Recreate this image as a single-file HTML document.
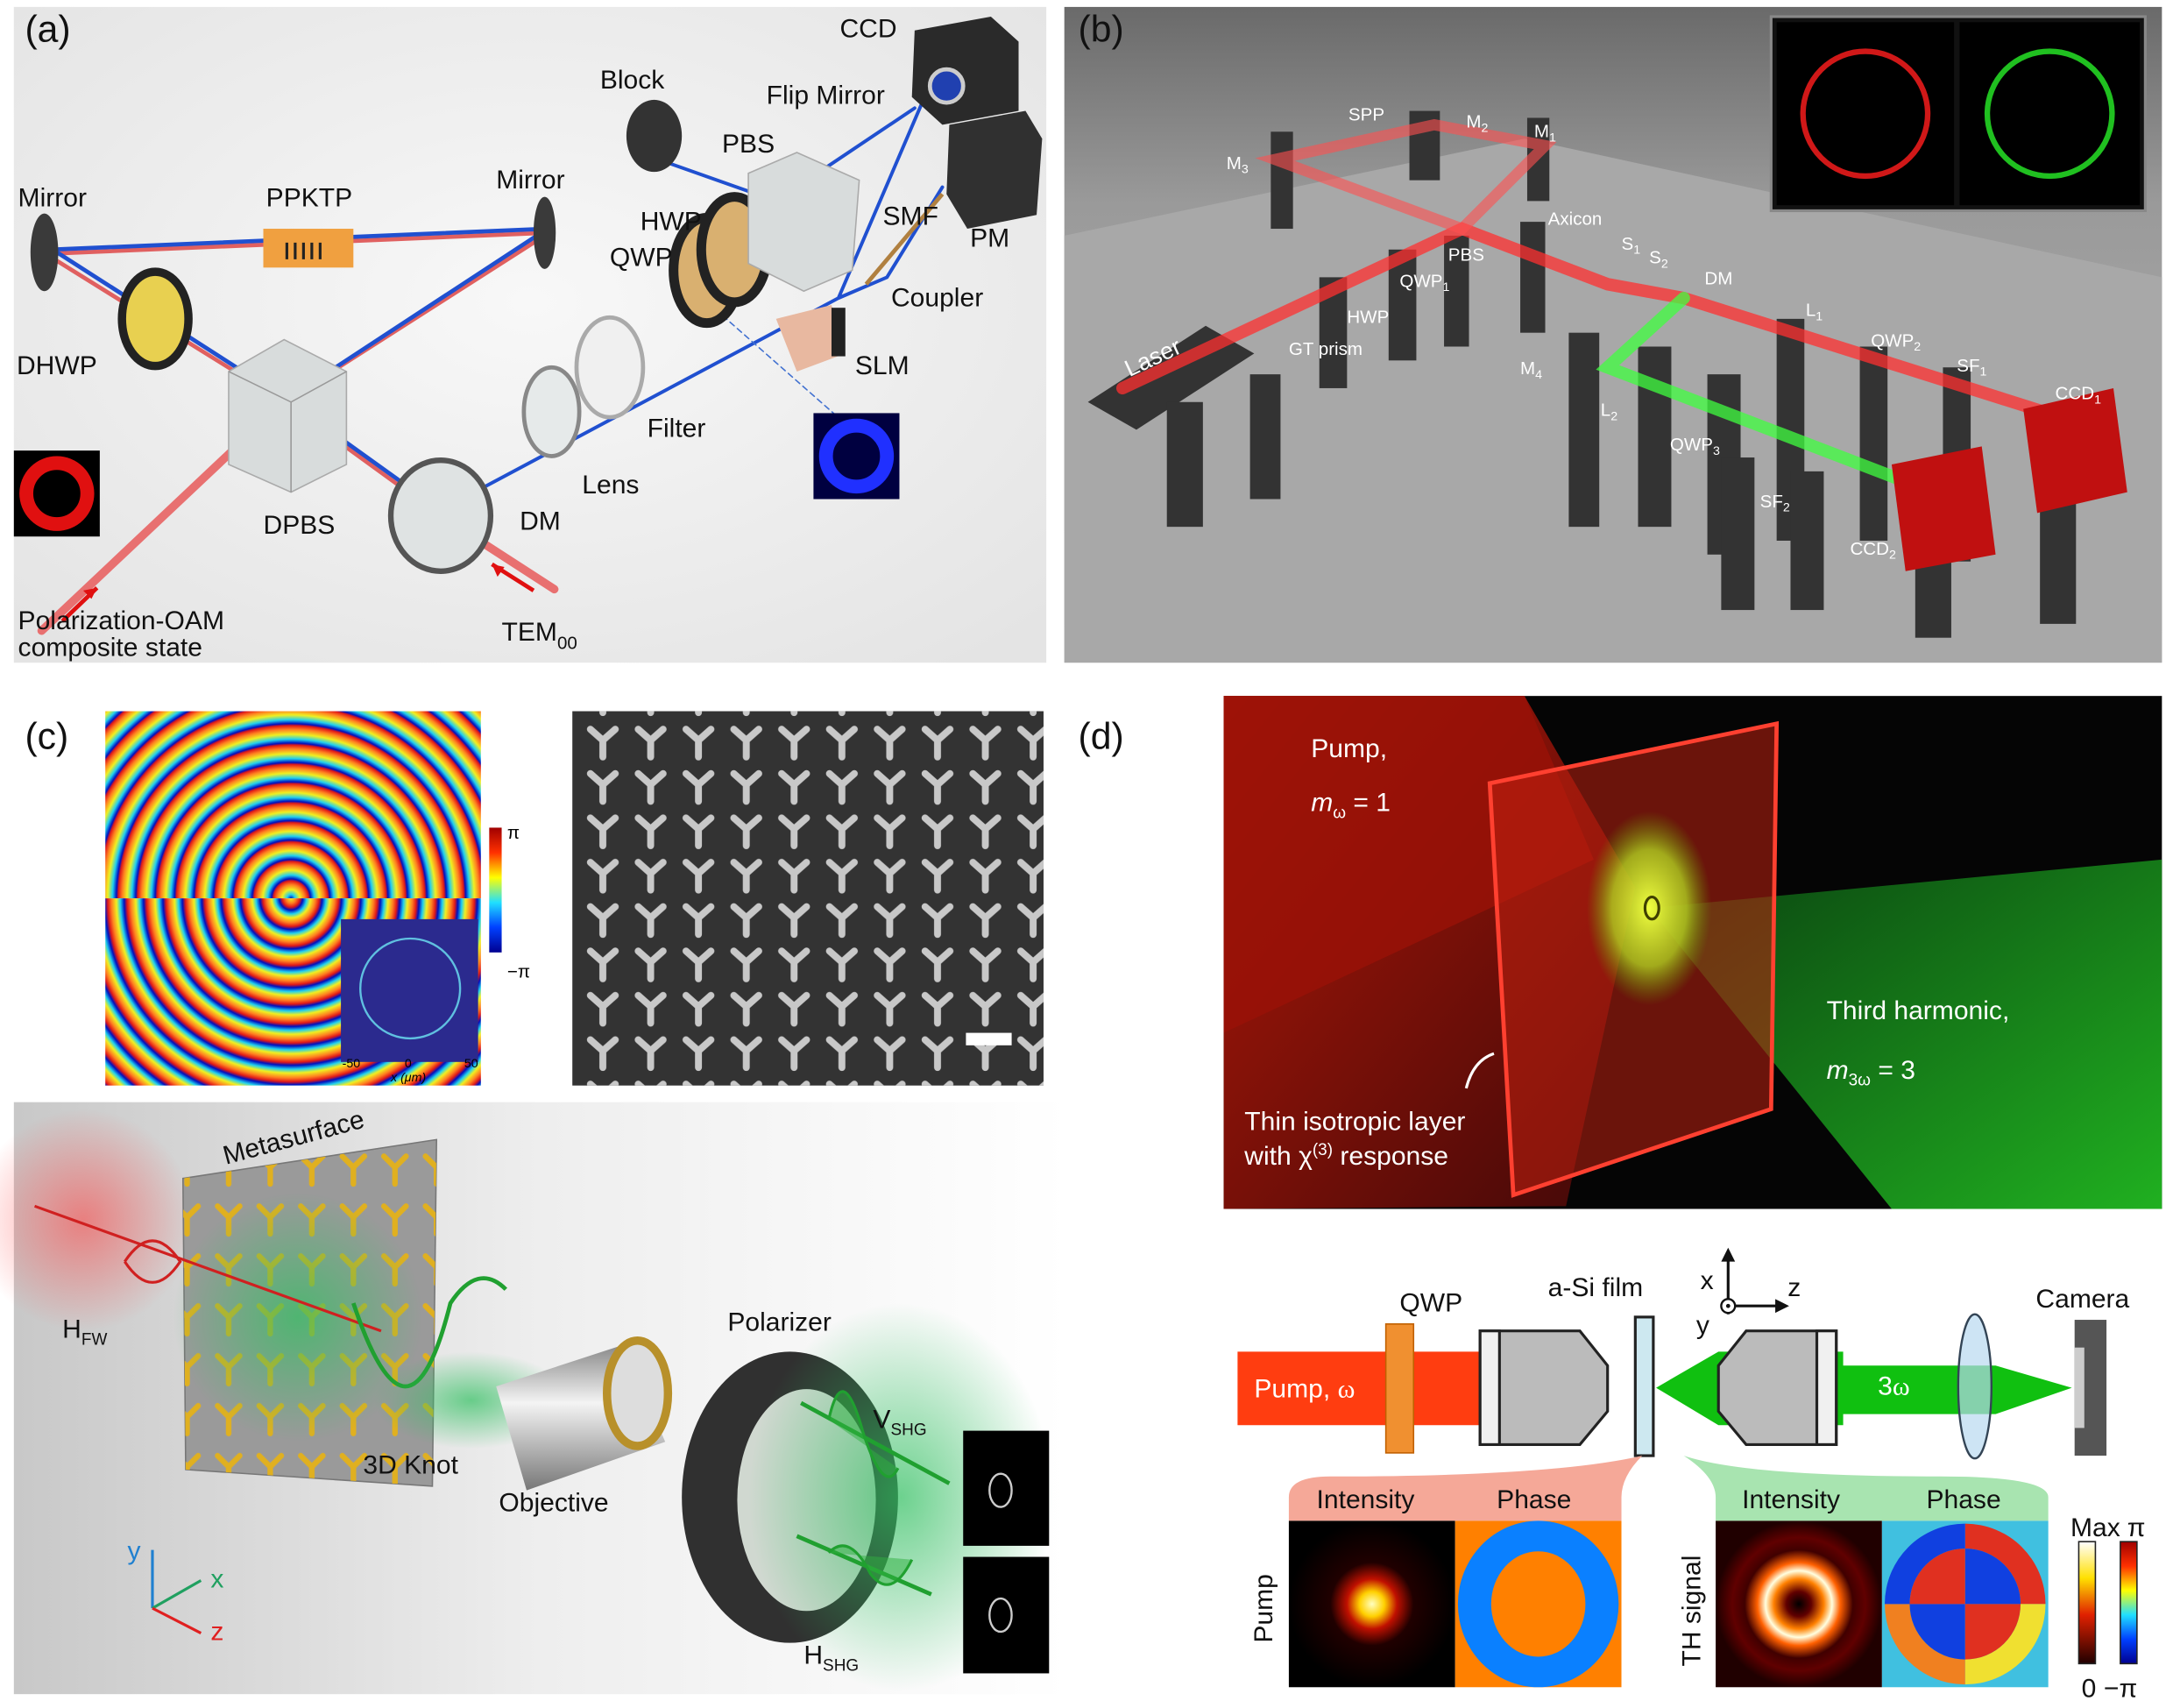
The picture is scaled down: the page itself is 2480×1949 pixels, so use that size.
<!DOCTYPE html>
<html><head><meta charset="utf-8"><style>
html,body{margin:0;padding:0;background:#fff}
svg{display:block}
text{font-family:"Liberation Sans",sans-serif}
</style></head><body>
<svg width="2480" height="1949" viewBox="0 0 1568 1232" preserveAspectRatio="none" xmlns="http://www.w3.org/2000/svg">
<defs>
<radialGradient id="abg" cx="0.5" cy="0.45" r="0.7"><stop offset="0" stop-color="#f8f8f8"/><stop offset="1" stop-color="#e4e4e4"/></radialGradient>
<linearGradient id="bbg" x1="0" y1="0" x2="0" y2="1"><stop offset="0" stop-color="#6a6a6a"/><stop offset="0.3" stop-color="#9a9a9a"/><stop offset="1" stop-color="#b4b4b4"/></linearGradient>
<radialGradient id="phase" cx="210" cy="648" r="14" gradientUnits="userSpaceOnUse" spreadMethod="repeat"><stop offset="0" stop-color="#0010c0"/><stop offset="0.2" stop-color="#20d0f0"/><stop offset="0.45" stop-color="#f0f020"/><stop offset="0.7" stop-color="#ff8020"/><stop offset="0.9" stop-color="#e01818"/><stop offset="1" stop-color="#0010c0"/></radialGradient>
<radialGradient id="phase2" cx="210" cy="648" r="14" gradientUnits="userSpaceOnUse" spreadMethod="repeat"><stop offset="0" stop-color="#f0f020"/><stop offset="0.25" stop-color="#ff8020"/><stop offset="0.45" stop-color="#e01818"/><stop offset="0.6" stop-color="#0010c0"/><stop offset="0.8" stop-color="#20d0f0"/><stop offset="1" stop-color="#f0f020"/></radialGradient>
<linearGradient id="jet" x1="0" y1="0" x2="0" y2="1"><stop offset="0" stop-color="#a00000"/><stop offset="0.2" stop-color="#ff3000"/><stop offset="0.4" stop-color="#ffff00"/><stop offset="0.6" stop-color="#20e0ff"/><stop offset="0.8" stop-color="#0040ff"/><stop offset="1" stop-color="#000090"/></linearGradient>
<linearGradient id="hot" x1="0" y1="0" x2="0" y2="1"><stop offset="0" stop-color="#fff"/><stop offset="0.3" stop-color="#ffe000"/><stop offset="0.6" stop-color="#e02000"/><stop offset="1" stop-color="#200000"/></linearGradient>
<pattern id="sem" x="418" y="518" width="34.5" height="32" patternUnits="userSpaceOnUse">
<path d="M17 16 L8 8 M17 16 L26 8 M17 16 L17 28" stroke="#c8c8c8" stroke-width="5" stroke-linecap="round" fill="none"/></pattern>
<pattern id="ys" x="150" y="860" width="30" height="36" patternUnits="userSpaceOnUse">
<path d="M15 18 L7 10 M15 18 L23 10 M15 18 L15 30" stroke="#e0b020" stroke-width="4" stroke-linecap="round" fill="none"/></pattern>
<linearGradient id="cbg" x1="0" y1="0" x2="1" y2="0"><stop offset="0" stop-color="#c8c8c8"/><stop offset="0.5" stop-color="#eeeeee"/><stop offset="1" stop-color="#ffffff"/></linearGradient>
<radialGradient id="redglow" cx="0.5" cy="0.5" r="0.5"><stop offset="0" stop-color="#ff4040" stop-opacity="0.55"/><stop offset="1" stop-color="#ff4040" stop-opacity="0"/></radialGradient>
<radialGradient id="greenglow" cx="0.5" cy="0.5" r="0.5"><stop offset="0" stop-color="#30c060" stop-opacity="0.7"/><stop offset="1" stop-color="#30c060" stop-opacity="0"/></radialGradient>
<radialGradient id="yglow" cx="0.5" cy="0.5" r="0.5"><stop offset="0" stop-color="#f0ff40"/><stop offset="0.6" stop-color="#b0d020" stop-opacity="0.8"/><stop offset="1" stop-color="#60a000" stop-opacity="0"/></radialGradient>
<radialGradient id="pumpI" cx="0.5" cy="0.5" r="0.5"><stop offset="0" stop-color="#ffffc0"/><stop offset="0.15" stop-color="#ffd000"/><stop offset="0.3" stop-color="#c01000"/><stop offset="0.5" stop-color="#200000"/><stop offset="1" stop-color="#000"/></radialGradient>
<radialGradient id="thI" cx="0.5" cy="0.5" r="0.5"><stop offset="0" stop-color="#000"/><stop offset="0.15" stop-color="#600000"/><stop offset="0.3" stop-color="#ff8000"/><stop offset="0.4" stop-color="#ffffe0"/><stop offset="0.5" stop-color="#ff6000"/><stop offset="0.65" stop-color="#400000"/><stop offset="0.8" stop-color="#600000"/><stop offset="1" stop-color="#200000"/></radialGradient>
<linearGradient id="dbg" x1="0" y1="0" x2="1" y2="1"><stop offset="0" stop-color="#b01808"/><stop offset="1" stop-color="#400808"/></linearGradient>
<linearGradient id="gbeam" x1="0" y1="0" x2="1" y2="1"><stop offset="0" stop-color="#0a4010"/><stop offset="1" stop-color="#20b020"/></linearGradient>
<linearGradient id="silver" x1="0" y1="0" x2="0" y2="1"><stop offset="0" stop-color="#888"/><stop offset="0.4" stop-color="#f4f4f4"/><stop offset="1" stop-color="#777"/></linearGradient>
</defs>

<!-- ===== (a) ===== -->
<rect x="10" y="5" width="745" height="473" fill="url(#abg)"/>
<g stroke-linecap="round" fill="none">
<path d="M30 455 L205 290" stroke="#e87070" stroke-width="6"/>
<path d="M400 425 L318 372" stroke="#e87070" stroke-width="6"/>
<path d="M36 185 L205 290 L318 372" stroke="#e06060" stroke-width="3"/>
<path d="M393 170 L205 290" stroke="#e06060" stroke-width="3"/>
<path d="M36 183 L393 168" stroke="#e06060" stroke-width="3"/>
<path d="M38 180 L395 165 M38 180 L205 287 L318 368 M395 165 L207 288" stroke="#2050d0" stroke-width="3"/>
<path d="M318 368 L605 215 L665 75 M560 145 L660 78 M605 215 L640 200 L680 135 M475 115 L560 145" stroke="#2050d0" stroke-width="2.5"/>
<path d="M490 200 L615 310" stroke="#4070d0" stroke-width="1" stroke-dasharray="4 3"/>
</g>
<ellipse cx="32" cy="182" rx="10" ry="28" fill="#3a3a3a"/>
<ellipse cx="393" cy="168" rx="8" ry="26" fill="#3a3a3a"/>
<rect x="190" y="165" width="65" height="28" fill="#f0a040"/>
<path d="M207 175v12M213 175v12M219 175v12M225 175v12M231 175v12" stroke="#222" stroke-width="2"/>
<ellipse cx="112" cy="230" rx="24" ry="34" fill="#e8d050" stroke="#222" stroke-width="6"/>
<path d="M165 268 L205 245 L250 268 L250 335 L210 355 L165 335 Z" fill="#d8dcdc" stroke="#aaa"/>
<path d="M165 268 L210 290 L250 268 M210 290 L210 355" stroke="#999" fill="none"/>
<ellipse cx="318" cy="372" rx="36" ry="40" fill="#dfe3e3" stroke="#555" stroke-width="4"/>
<ellipse cx="398" cy="297" rx="20" ry="32" fill="#e6eaea" stroke="#888" stroke-width="3"/>
<ellipse cx="440" cy="265" rx="24" ry="36" fill="#f0f0f0" stroke="#aaa" stroke-width="3"/>
<ellipse cx="510" cy="195" rx="24" ry="38" fill="#d9b070" stroke="#222" stroke-width="7"/>
<ellipse cx="530" cy="180" rx="24" ry="38" fill="#d9b070" stroke="#222" stroke-width="7"/>
<path d="M540 125 L575 110 L620 130 L615 195 L580 210 L540 190 Z" fill="#d8dcdc" stroke="#aaa"/>
<ellipse cx="472" cy="98" rx="20" ry="26" fill="#333"/>
<path d="M660 22 L715 12 L735 30 L735 80 L680 90 L658 70 Z" fill="#2a2a2a"/>
<circle cx="683" cy="62" r="12" fill="#2040b0" stroke="#ccc" stroke-width="3"/>
<path d="M685 90 L740 80 L752 100 L748 155 L698 165 L683 140 Z" fill="#303030"/>
<path d="M560 230 L600 220 L610 255 L575 268 Z" fill="#e8b8a0"/>
<rect x="600" y="222" width="10" height="35" fill="#222"/>
<path d="M625 205 L680 140" stroke="#b08040" stroke-width="3" fill="none"/>
<rect x="10" y="325" width="62" height="62" fill="#000"/>
<circle cx="41" cy="356" r="22" fill="none" stroke="#e01010" stroke-width="10"/>
<rect x="587" y="298" width="62" height="62" fill="#000040"/>
<circle cx="618" cy="329" r="22" fill="none" stroke="#2030ff" stroke-width="10"/>
<path d="M45 448 L70 424 M385 426 L355 407" stroke="#e01010" stroke-width="3" fill="none"/>
<path d="M70 424 l-10 2 l6 6 Z M355 407 l4 9 l5 -7 Z" fill="#e01010"/>
<g font-size="19" fill="#111">
<text x="18" y="30" font-size="27">(a)</text>
<text x="13" y="149">Mirror</text><text x="192" y="149">PPKTP</text><text x="358" y="136">Mirror</text>
<text x="433" y="64">Block</text><text x="606" y="27">CCD</text><text x="553" y="75">Flip Mirror</text>
<text x="521" y="110">PBS</text><text x="462" y="166">HWP</text><text x="440" y="192">QWP</text>
<text x="637" y="162">SMF</text><text x="700" y="178">PM</text><text x="643" y="221">Coupler</text>
<text x="617" y="270">SLM</text><text x="12" y="270">DHWP</text><text x="467" y="315">Filter</text>
<text x="420" y="356">Lens</text><text x="190" y="385">DPBS</text><text x="375" y="382">DM</text>
<text x="13" y="454">Polarization-OAM</text><text x="13" y="473">composite state</text>
<text x="362" y="462">TEM<tspan font-size="13" dy="6">00</tspan></text>
</g>

<!-- ===== (b) ===== -->
<rect x="768" y="5" width="792" height="473" fill="url(#bbg)"/>
<path d="M768 170 L1100 100 L1560 200 L1560 478 L768 478 Z" fill="#a8a8a8"/>
<g fill="#333">
<path d="M785 290 L870 235 L905 255 L820 310 Z"/>
<rect x="842" y="290" width="26" height="90"/><rect x="902" y="270" width="22" height="90"/>
<rect x="952" y="200" width="20" height="80"/><rect x="1002" y="180" width="20" height="80"/>
<rect x="1042" y="170" width="18" height="80"/><rect x="1097" y="160" width="18" height="80"/>
<rect x="1132" y="240" width="22" height="140"/><rect x="1182" y="250" width="24" height="130"/>
<rect x="1232" y="270" width="24" height="130"/><rect x="1282" y="230" width="20" height="160"/>
<rect x="1242" y="330" width="24" height="110"/><rect x="1292" y="340" width="24" height="100"/>
<rect x="1342" y="250" width="20" height="140"/><rect x="1402" y="265" width="20" height="140"/>
<rect x="1472" y="350" width="26" height="100"/><rect x="1382" y="390" width="26" height="70"/>
<rect x="917" y="95" width="16" height="70"/><rect x="1017" y="80" width="22" height="50"/><rect x="1102" y="85" width="16" height="60"/>
</g>
<g stroke-linecap="round" fill="none">
<path d="M810 280 L1055 165 L1160 205 L1215 215 L1500 305" stroke="#ff3030" stroke-width="9" opacity="0.75"/>
<path d="M920 115 L1035 90 L1115 105 L1055 165 Z" stroke="#ff5050" stroke-width="8" opacity="0.6"/>
<path d="M1215 215 L1160 265 L1395 355" stroke="#40ff40" stroke-width="9" opacity="0.75"/>
</g>
<path d="M1460 295 L1525 280 L1535 355 L1470 370 Z" fill="#c01010"/>
<path d="M1365 335 L1430 322 L1440 400 L1375 412 Z" fill="#c01010"/>
<rect x="1278" y="12" width="270" height="140" fill="#111" stroke="#888" stroke-width="2"/>
<rect x="1282" y="16" width="128" height="132" fill="#000"/><rect x="1414" y="16" width="130" height="132" fill="#000"/>
<circle cx="1346" cy="82" r="45" fill="none" stroke="#d01818" stroke-width="4"/>
<circle cx="1479" cy="82" r="45" fill="none" stroke="#20c020" stroke-width="4"/>
<g font-size="13" fill="#fff" font-family="Liberation Serif">
<text x="973" y="87">SPP</text><text x="1058" y="92">M<tspan font-size="9" dy="3">2</tspan></text><text x="1107" y="99">M<tspan font-size="9" dy="3">1</tspan></text>
<text x="885" y="122">M<tspan font-size="9" dy="3">3</tspan></text><text x="1117" y="162">Axicon</text><text x="1045" y="188">PBS</text>
<text x="1010" y="207">QWP<tspan font-size="9" dy="3">1</tspan></text><text x="1170" y="180">S<tspan font-size="9" dy="3">1</tspan></text><text x="1190" y="190">S<tspan font-size="9" dy="3">2</tspan></text>
<text x="1230" y="205">DM</text><text x="972" y="233">HWP</text><text x="930" y="256">GT prism</text>
<text x="1097" y="270">M<tspan font-size="9" dy="3">4</tspan></text><text x="1155" y="300">L<tspan font-size="9" dy="3">2</tspan></text>
<text x="1303" y="228">L<tspan font-size="9" dy="3">1</tspan></text><text x="1350" y="250">QWP<tspan font-size="9" dy="3">2</tspan></text>
<text x="1412" y="268">SF<tspan font-size="9" dy="3">1</tspan></text><text x="1483" y="288">CCD<tspan font-size="9" dy="3">1</tspan></text>
<text x="1205" y="325">QWP<tspan font-size="9" dy="3">3</tspan></text><text x="1270" y="366">SF<tspan font-size="9" dy="3">2</tspan></text>
<text x="1335" y="400">CCD<tspan font-size="9" dy="3">2</tspan></text>
<text x="815" y="272" font-size="17" transform="rotate(-25 815 272)">Laser</text>
</g>
<text x="778" y="30" font-size="27" fill="#111">(b)</text>

<!-- ===== (c) ===== -->
<text x="18" y="540" font-size="27" fill="#111">(c)</text>
<rect x="76" y="513" width="271" height="135" fill="url(#phase)"/>
<rect x="76" y="648" width="271" height="135" fill="url(#phase2)"/>
<rect x="246" y="663" width="99" height="103" fill="#2b2a8e"/>
<circle cx="296" cy="713" r="36" fill="none" stroke="#60c0e0" stroke-width="1.5"/>
<rect x="353" y="597" width="9" height="90" fill="url(#jet)"/>
<text x="366" y="605" font-size="13" font-family="Liberation Serif">π</text>
<text x="366" y="705" font-size="13" font-family="Liberation Serif">−π</text>
<text x="247" y="770" font-size="9">-50</text><text x="292" y="770" font-size="9">0</text><text x="335" y="770" font-size="9">50</text>
<text x="282" y="780" font-size="9" font-style="italic">x (μm)</text>
<rect x="413" y="513" width="340" height="270" fill="#333"/>
<rect x="413" y="513" width="340" height="270" fill="url(#sem)"/>
<rect x="697" y="745" width="33" height="9" fill="#fff"/>

<rect x="10" y="795" width="760" height="427" fill="url(#cbg)"/>
<ellipse cx="60" cy="880" rx="80" ry="80" fill="url(#redglow)"/>
<path d="M132 850 L315 822 L312 1072 L134 1060 Z" fill="#9a9a9a" stroke="#777"/>
<path d="M132 850 L315 822 L312 1072 L134 1060 Z" fill="url(#ys)"/>
<ellipse cx="215" cy="950" rx="90" ry="90" fill="url(#greenglow)"/>
<path d="M25 870 L275 960" stroke="#d02020" stroke-width="2"/>
<path d="M90 910 q20 -30 40 0 q-20 30 -40 0" fill="none" stroke="#d02020" stroke-width="2"/>
<path d="M255 940 q40 120 70 0 q20 -30 40 -10" fill="none" stroke="#20a030" stroke-width="3"/>
<ellipse cx="340" cy="1010" rx="70" ry="35" fill="url(#greenglow)"/>
<path d="M358 1000 L450 970 L480 1040 L380 1075 Z" fill="url(#silver)"/>
<ellipse cx="460" cy="1005" rx="22" ry="38" fill="#ddd" stroke="#b8902a" stroke-width="6"/>
<ellipse cx="570" cy="1080" rx="78" ry="105" fill="#303030"/>
<ellipse cx="582" cy="1082" rx="50" ry="80" fill="#d0d8d0"/>
<ellipse cx="650" cy="1080" rx="110" ry="140" fill="url(#greenglow)"/>
<path d="M578 1012 L685 1070 M575 1108 L672 1150" stroke="#20a030" stroke-width="3" fill="none"/>
<path d="M598 1024 q10 -45 25 10 q15 45 25 25" fill="#30b040" fill-opacity="0.5" stroke="#20a030" stroke-width="2"/>
<path d="M598 1120 q15 -15 30 15 q15 20 30 -10" fill="#30b040" fill-opacity="0.5" stroke="#20a030" stroke-width="2"/>
<rect x="695" y="1032" width="62" height="83" fill="#000"/>
<rect x="695" y="1123" width="62" height="84" fill="#000"/>
<ellipse cx="722" cy="1075" rx="8" ry="12" fill="none" stroke="#ccc" stroke-width="1.5"/>
<ellipse cx="722" cy="1165" rx="8" ry="12" fill="none" stroke="#ccc" stroke-width="1.5"/>
<path d="M110 1160 L110 1118" stroke="#2080d0" stroke-width="2"/>
<path d="M110 1160 L145 1140" stroke="#20a060" stroke-width="2"/>
<path d="M110 1160 L145 1178" stroke="#e02020" stroke-width="2"/>
<g font-size="19" fill="#111">
<text x="92" y="1125" fill="#2080d0">y</text><text x="152" y="1145" fill="#20a060">x</text><text x="152" y="1183" fill="#e02020">z</text>
<text x="163" y="840" transform="rotate(-15 163 840)">Metasurface</text>
<text x="45" y="965">H<tspan font-size="12" dy="5">FW</tspan></text>
<text x="262" y="1063">3D Knot</text><text x="360" y="1090">Objective</text><text x="525" y="960">Polarizer</text>
<text x="630" y="1030">V<tspan font-size="12" dy="5">SHG</tspan></text>
<text x="580" y="1200">H<tspan font-size="12" dy="5">SHG</tspan></text>
</g>

<!-- ===== (d) ===== -->
<text x="778" y="540" font-size="27" fill="#111">(d)</text>
<rect x="883" y="502" width="677" height="370" fill="#050505"/>
<path d="M883 502 L1100 502 L1180 640 L1130 870 L883 872 Z" fill="url(#dbg)"/>
<path d="M883 502 L1100 502 L1150 620 L883 745 Z" fill="#9a1208" opacity="0.8"/>
<path d="M1190 655 L1560 620 L1560 872 L1365 872 Z" fill="url(#gbeam)"/>
<path d="M1075 565 L1282 522 L1278 800 L1092 862 Z" fill="#c02010" fill-opacity="0.55" stroke="#ff4030" stroke-width="3"/>
<ellipse cx="1190" cy="655" rx="45" ry="70" fill="url(#yglow)"/>
<ellipse cx="1192" cy="655" rx="5" ry="8" fill="none" stroke="#404000" stroke-width="2"/>
<path d="M1078 760 q-15 5 -20 25" fill="none" stroke="#fff" stroke-width="2"/>
<g font-size="19" fill="#fff">
<text x="946" y="546">Pump,</text>
<text x="946" y="585"><tspan font-style="italic">m</tspan><tspan font-size="12" dy="5">ω</tspan><tspan dy="-5"> = 1</tspan></text>
<text x="1318" y="735">Third harmonic,</text>
<text x="1318" y="778"><tspan font-style="italic">m</tspan><tspan font-size="12" dy="5">3ω</tspan><tspan dy="-5"> = 3</tspan></text>
<text x="898" y="815">Thin isotropic layer</text>
<text x="898" y="840">with χ<tspan font-size="12" dy="-7">(3)</tspan><tspan dy="7"> response</tspan></text>
</g>

<!-- schematic -->
<path d="M893 975 L1120 975 L1160 1001 L1120 1028 L893 1028 Z" fill="#ff3d10"/>
<rect x="1000" y="955" width="20" height="93" fill="#f09030" stroke="#c06000"/>
<path d="M1068 960 L1140 960 L1160 985 L1160 1018 L1140 1042 L1068 1042 Z" fill="#bbb" stroke="#222" stroke-width="2"/>
<rect x="1068" y="960" width="14" height="82" fill="#f0f0f0" stroke="#222" stroke-width="2"/>
<rect x="1180" y="950" width="13" height="100" fill="#cde8f0" stroke="#222" stroke-width="2"/>
<path d="M1195 1001 L1240 975 L1330 975 L1330 1028 L1240 1028 Z" fill="#10c010"/>
<path d="M1325 985 L1440 985 L1495 1001 L1440 1020 L1325 1020 Z" fill="#10c010"/>
<path d="M1260 960 L1325 960 L1325 1042 L1260 1042 L1240 1018 L1240 985 Z" fill="#bbb" stroke="#222" stroke-width="2"/>
<rect x="1311" y="960" width="14" height="82" fill="#f0f0f0" stroke="#222" stroke-width="2"/>
<ellipse cx="1425" cy="1000" rx="12" ry="52" fill="#b8d8f0" fill-opacity="0.7" stroke="#345" stroke-width="1.5"/>
<rect x="1497" y="952" width="23" height="98" fill="#555"/>
<rect x="1497" y="972" width="7" height="58" fill="#ccc"/>
<path d="M1247 948 L1247 905 M1247 942 L1285 942" stroke="#111" stroke-width="2"/>
<path d="M1247 900 l-5 10 h10 Z M1291 942 l-10 -5 v10 Z" fill="#111"/>
<circle cx="1247" cy="942" r="5" fill="#fff" stroke="#111" stroke-width="1.5"/><circle cx="1247" cy="942" r="1.5" fill="#111"/>
<path d="M930 1097 L930 1080 Q930 1065 960 1065 Q1120 1065 1185 1050 Q1170 1065 1170 1080 L1170 1097 Z" fill="#f5a898"/>
<path d="M1238 1097 L1238 1080 Q1238 1065 1215 1050 Q1260 1065 1400 1065 Q1478 1065 1478 1080 L1478 1097 Z" fill="#a8e4b0"/>
<rect x="930" y="1097" width="120" height="120" fill="url(#pumpI)"/>
<rect x="1050" y="1097" width="120" height="120" fill="#ff8000"/>
<ellipse cx="1110" cy="1157" rx="58" ry="60" fill="#0a80ff"/>
<ellipse cx="1110" cy="1157" rx="34" ry="38" fill="#ff8000"/>
<rect x="1238" y="1097" width="120" height="120" fill="url(#thI)"/>
<rect x="1358" y="1097" width="120" height="120" fill="#40c0e0"/>
<path d="M1418 1157 L1418 1099 A58 58 0 0 1 1476 1157 Z" fill="#e03020"/>
<path d="M1418 1157 L1476 1157 A58 58 0 0 1 1418 1215 Z" fill="#f0e030"/>
<path d="M1418 1157 L1418 1215 A58 58 0 0 1 1360 1157 Z" fill="#f08020"/>
<path d="M1418 1157 L1360 1157 A58 58 0 0 1 1418 1099 Z" fill="#1040e0"/>
<circle cx="1418" cy="1157" r="40" fill="#30d0e0"/>
<path d="M1418 1157 L1418 1117 A40 40 0 0 1 1458 1157 Z M1418 1157 L1418 1197 A40 40 0 0 1 1378 1157 Z" fill="#1040e0"/>
<path d="M1418 1157 L1458 1157 A40 40 0 0 1 1418 1197 Z M1418 1157 L1378 1157 A40 40 0 0 1 1418 1117 Z" fill="#e03020"/>
<rect x="1500" y="1112" width="12" height="88" fill="url(#hot)" stroke="#222"/>
<rect x="1530" y="1112" width="12" height="88" fill="url(#jet)" stroke="#222"/>
<g font-size="19" fill="#111">
<text x="1010" y="946">QWP</text><text x="1117" y="935">a-Si film</text><text x="1469" y="943">Camera</text>
<text x="1227" y="930">x</text><text x="1290" y="935">z</text><text x="1224" y="962">y</text>
<text x="950" y="1088">Intensity</text><text x="1080" y="1088">Phase</text>
<text x="1257" y="1088">Intensity</text><text x="1390" y="1088">Phase</text>
<text x="1494" y="1108">Max</text><text x="1535" y="1108" font-family="Liberation Serif">π</text>
<text x="1502" y="1224">0</text><text x="1518" y="1224" font-family="Liberation Serif">−π</text>
<text x="918" y="1185" transform="rotate(-90 918 1185)">Pump</text>
<text x="1227" y="1202" transform="rotate(-90 1227 1202)">TH signal</text>
<text x="905" y="1008" fill="#fff">Pump, <tspan font-family="Liberation Serif">ω</tspan></text>
<text x="1355" y="1006" fill="#fff">3<tspan font-family="Liberation Serif">ω</tspan></text>
</g>
</svg>
</body></html>
